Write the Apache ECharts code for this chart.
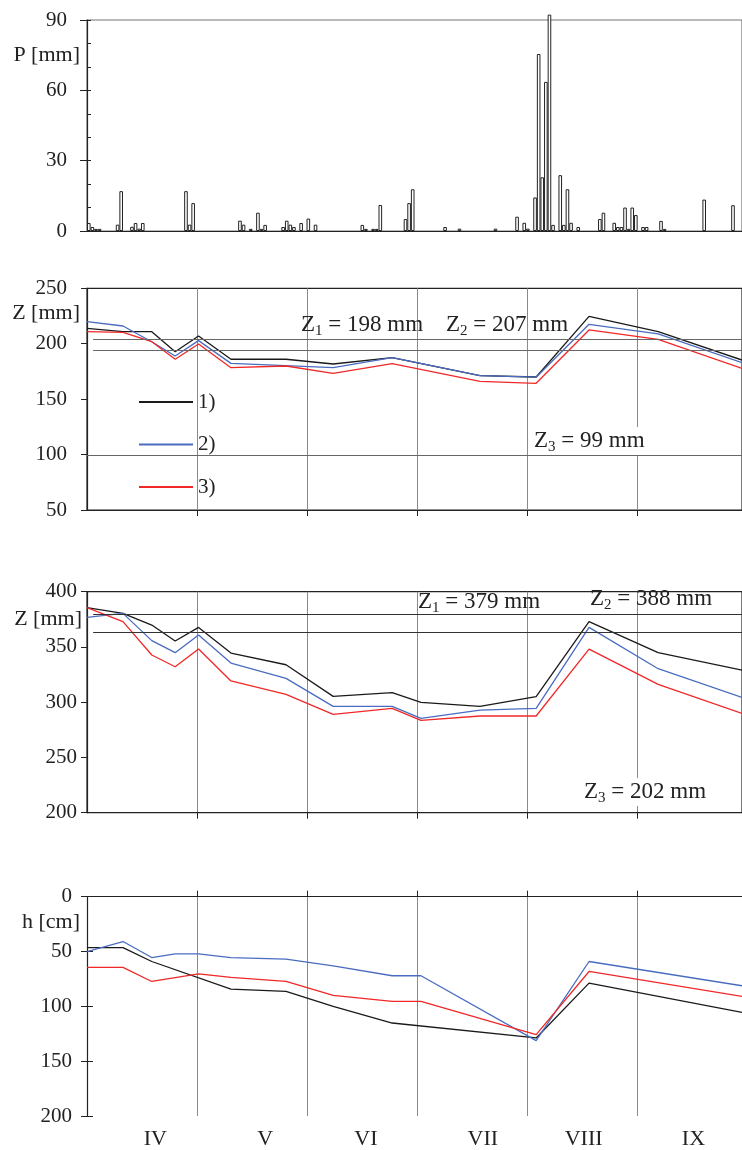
<!DOCTYPE html>
<html>
<head>
<meta charset="utf-8">
<script src="https://cdn.jsdelivr.net/npm/echarts@6/dist/echarts.min.js"></script>
<style>
    html, body { margin: 0; padding: 0; background: #fff; }
    #chart { width: 742px; height: 1150px; }
</style>
</head>
<body>
<div id="chart"></div>
<script>
//月份（x轴按4月1日起的天数）
var monthNames = ['IV', 'V', 'VI', 'VII', 'VIII', 'IX'];
var monthEdges = [30.7, 61.1, 91.9, 122.3, 153];
var monthLabelDays = [19, 49.5, 77.5, 110, 138, 168.5];

//降水 P [mm]
var rainDays = [0, 1, 2, 3, 8, 9, 12, 13, 14, 15, 27, 28, 29, 42, 43, 45, 47, 48, 49,
    54, 55, 56, 57, 59, 61, 63, 76, 77, 79, 80, 81, 88, 89, 90, 99, 103, 113,
    119, 121, 122, 124, 125, 126, 127, 128, 129, 131, 132, 133, 134, 136,
    142, 143, 146, 147, 148, 149, 150, 151, 152, 154, 155, 159, 160, 171, 179];
var rainMm = [3.4, 1.7, 0.9, 0.9, 2.7, 17, 1.8, 3.4, 1.0, 3.4, 17, 2.7, 11.9, 4.4, 2.7, 0.9, 7.8, 0.9, 2.6,
    1.7, 4.4, 2.7, 1.7, 3.4, 5.3, 2.7, 2.6, 0.9, 0.9, 0.9, 11.1, 5.1, 11.9, 17.8, 1.7, 1.0, 1.0,
    6.1, 3.5, 1.0, 14.3, 75.5, 22.9, 63.6, 92.3, 2.6, 23.8, 2.6, 17.8, 3.5, 1.7,
    5.1, 7.8, 3.5, 1.7, 1.7, 10, 0.9, 10, 6.8, 1.7, 1.7, 4.3, 0.9, 13.4, 11];

//测量日期
var measureDays = [0, 10, 18, 24.5, 31, 40, 55.3, 68.4, 84.8, 92.8, 109.2, 124.8, 139.5, 158.7, 182];

//第二图 Z [mm]
var zTopBlack = [213.9, 210.9, 210.9, 192.8, 207, 186, 186, 181.7, 187.4, null, 171.2, 170, 224.7, 210.9, 185.3];
var zTopBlue = [219.9, 216, 201.8, 188.9, 202.8, 182.3, 180.2, 178.4, 187.4, null, 171.2, 169.8, 217.5, 208.8, 182.9];
var zTopRed = [210.9, 210.3, 201.8, 186, 199.8, 178.4, 179.9, 173.3, 182, null, 166.1, 164.3, 212.4, 204, 177.8];
var zTopLevels = [204, 194];
var zTopLow = 99;

//第三图 Z [mm]
var zMidBlack = [385.5, 380.4, 369.8, 355.4, 367.7, 344.5, 333.9, 305.3, 308.6, 299.8, 296.2, 305, 372.9, 344.8, 329.1];
var zMidBlue = [376.8, 380.4, 355.7, 344.8, 360.8, 335.4, 321.6, 296.2, 296.2, 285.4, 292.9, 294.4, 367.7, 330.3, 304.4];
var zMidRed = [385.5, 372.9, 342.7, 332.1, 348.1, 319.2, 307.1, 289, 294.4, 283.6, 287.5, 287.5, 348.1, 316.1, 289.9];
var zMidLevels = [380, 363.5];

//第四图 h [cm]
var hBlack = [46.4, 46.4, 59.1, null, null, 84.2, 86.4, 100, 115.2, null, null, 128.8, 78.8, null, 105.5];
var hBlue = [50, 40.9, 55.5, 52.1, 52.1, 55.5, 57, 63, 72.1, 72.1, null, 131.2, 59.1, null, 81.2];
var hRed = [64.5, 64.5, 77.3, null, 70.3, 73.6, 77.3, 90, 95.5, 95.5, null, 125.8, 68.2, null, 91];

var FONT = "'Liberation Serif', 'Times New Roman', serif";
var INK = '#222';
var COLORS = { '1)': '#1a1a1a', '2)': '#4a6cc0', '3)': '#f02828' };
var DAY_MAX = 182;

//把测量值配成 [天, 值]，跳过空值
function pairs(values) {
    var out = [];
    for (var i = 0; i < values.length; i++) {
        if (values[i] != null) out.push([measureDays[i], values[i]]);
    }
    return out;
}

function lineSeries(name, values, axis, extra) {
    var s = {
        name: name,
        type: 'line',
        xAxisIndex: axis[0],
        yAxisIndex: axis[1],
        data: pairs(values),
        symbol: 'none',
        lineStyle: { color: COLORS[name], width: 1.3 },
        itemStyle: { color: COLORS[name] },
        z: 3
    };
    for (var k in extra) s[k] = extra[k];
    return s;
}

function levelLines(levels, fromDay, color) {
    return {
        silent: true,
        symbol: 'none',
        label: { show: false },
        lineStyle: { color: color, width: 1.2, type: 'solid' },
        data: levels.map(function(v) {
            return [{ coord: [fromDay, v] }, { coord: [DAY_MAX, v] }];
        })
    };
}

function monthAxis(grid, position) {
    return {
        type: 'value', gridIndex: grid, min: 0, max: DAY_MAX, position: position,
        axisLine: { lineStyle: { color: INK, width: 1.2 } },
        axisTick: { show: true, length: 6, customValues: monthEdges, lineStyle: { color: INK } },
        axisLabel: { show: false },
        splitLine: { show: true, lineStyle: { color: '#8a8a8a', width: 1 } }
    };
}

function valueAxis(grid, min, max, margin, extra) {
    var a = {
        type: 'value', gridIndex: grid, min: min, max: max, interval: 50, position: 'left',
        axisLine: { show: true, lineStyle: { color: INK, width: 1.2 } },
        axisTick: { show: true, length: 6, lineStyle: { color: INK } },
        axisLabel: { margin: margin, fontFamily: FONT, fontSize: 21, color: INK },
        splitLine: { show: false }
    };
    for (var k in extra) a[k] = extra[k];
    return a;
}

//只画内侧刻度的辅助轴
function innerTicks(grid, max, interval, length, inverse) {
    return {
        type: 'value', gridIndex: grid, min: 0, max: max, interval: interval,
        position: 'left', offset: 0, inverse: inverse,
        axisLine: { show: false }, axisLabel: { show: false }, splitLine: { show: false },
        axisTick: { show: true, inside: true, length: length, lineStyle: { color: INK } }
    };
}

//带下标的文字 Z₁ = ...
function zText(x, y, sub, rest, bg) {
    return {
        type: 'text', left: x, top: y - 14, z: 10,
        style: {
            text: '{m|Z}{s|' + sub + '}{m| = ' + rest + '}',
            backgroundColor: bg ? '#fff' : null,
            rich: {
                m: { fontFamily: FONT, fontSize: 23, lineHeight: 28, fill: INK },
                s: { fontFamily: FONT, fontSize: 15, lineHeight: 15, fill: INK, verticalAlign: 'bottom' }
            }
        }
    };
}

function axisName(right, y, text) {
    return {
        type: 'text', right: 742 - right, top: y - 13, z: 10,
        style: { text: text, fontFamily: FONT, fontSize: 22, lineHeight: 26, fill: INK, backgroundColor: '#fff' }
    };
}

var option = {
    animation: false,
    backgroundColor: '#fff',
    grid: [
        { left: 87, right: 0, top: 20, height: 211, show: true, borderColor: '#777', borderWidth: 1.2 },
        { left: 87, right: 0, top: 288.3, height: 221.7, show: true, borderColor: INK, borderWidth: 1.2 },
        { left: 87, right: 0, top: 591.7, height: 221, show: true, borderColor: INK, borderWidth: 1.2 },
        { left: 87, right: 0, top: 896.7, height: 220 }
    ],
    xAxis: [
        {
            type: 'value', gridIndex: 0, min: 0, max: DAY_MAX,
            axisLine: { lineStyle: { color: INK, width: 1.2 } },
            axisTick: { show: false }, axisLabel: { show: false }, splitLine: { show: false }
        },
        monthAxis(1, 'bottom'),
        monthAxis(2, 'bottom'),
        monthAxis(3, 'top'),
        {
            type: 'value', gridIndex: 3, min: 0, max: DAY_MAX, position: 'bottom',
            axisLine: { lineStyle: { color: INK, width: 1.2 } },
            axisTick: { show: false },
            axisLabel: {
                customValues: monthLabelDays, margin: 12,
                fontFamily: FONT, fontSize: 22, color: INK,
                formatter: function(v) { return monthNames[monthLabelDays.indexOf(v)]; }
            },
            splitLine: { show: false }
        }
    ],
    yAxis: [
        valueAxis(0, 0, 90, 20, { interval: 30, axisTick: { show: true, length: 7, lineStyle: { color: INK } } }),
        innerTicks(0, 90, 10, 4, false),
        valueAxis(1, 50, 250, 20),
        valueAxis(2, 200, 400, 10),
        valueAxis(3, 0, 200, 15, { inverse: true }),
        innerTicks(3, 200, 50, 6, true)
    ],
    legend: {
        left: 133, top: 386.5, orient: 'vertical',
        itemWidth: 54, itemHeight: 14, itemGap: 21.5,
        itemStyle: { opacity: 0 },
        textStyle: { fontFamily: FONT, fontSize: 21, color: INK },
        data: ['1)', '2)', '3)']
    },
    series: [
        {
            type: 'bar', xAxisIndex: 0, yAxisIndex: 0, clip: false,
            barWidth: 3.6,
            data: rainDays.map(function(d, i) { return [d + 0.5, rainMm[i]]; }),
            itemStyle: { color: '#fff', borderColor: INK, borderWidth: 1 }
        },
        lineSeries('1)', zTopBlack, [1, 2], {
            markLine: {
                silent: true, symbol: 'none', label: { show: false },
                lineStyle: { color: '#666', width: 1.2, type: 'solid' },
                data: zTopLevels.map(function(v) { return [{ coord: [1.7, v] }, { coord: [DAY_MAX, v] }]; })
                    .concat([[{ coord: [0, zTopLow] }, { coord: [DAY_MAX, zTopLow] }]])
            }
        }),
        lineSeries('2)', zTopBlue, [1, 2]),
        lineSeries('3)', zTopRed, [1, 2]),
        lineSeries('1)', zMidBlack, [2, 3], { markLine: levelLines(zMidLevels, 1.7, '#333') }),
        lineSeries('2)', zMidBlue, [2, 3]),
        lineSeries('3)', zMidRed, [2, 3]),
        lineSeries('1)', hBlack, [3, 5]),
        lineSeries('2)', hBlue, [3, 5]),
        lineSeries('3)', hRed, [3, 5])
    ],
    graphic: [
        axisName(80, 55, 'P [mm]'),
        axisName(80, 313, 'Z [mm]'),
        axisName(82, 619, 'Z [mm]'),
        axisName(80, 922, 'h [cm]'),
        zText(301, 327, '1', '198 mm', false),
        zText(446, 327, '2', '207 mm', false),
        zText(534, 441, '3', '99 mm', true),
        zText(418, 604, '1', '379 mm', false),
        zText(590, 601, '2', '388 mm', false),
        zText(584, 792, '3', '202 mm', true)
    ]
};

var myChart = echarts.init(document.getElementById('chart'));
myChart.setOption(option);
</script>
</body>
</html>
